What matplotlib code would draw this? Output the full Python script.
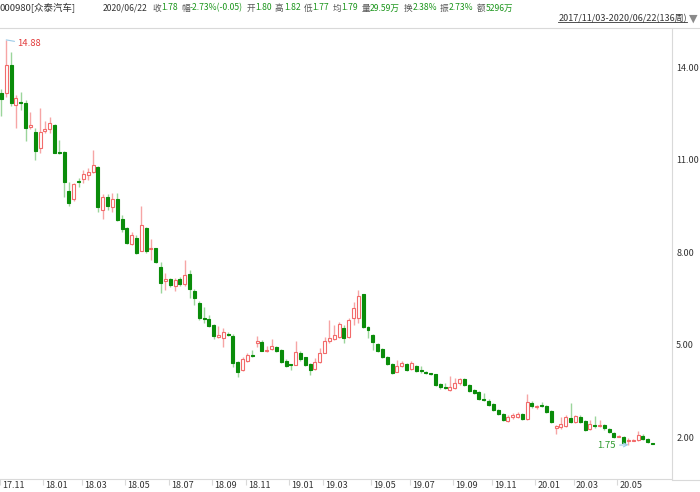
import matplotlib
matplotlib.use("Agg")
import matplotlib.pyplot as plt
import matplotlib.transforms as mtransforms
from matplotlib.lines import Line2D

plt.rcParams['font.family'] = ['Noto Sans CJK SC', 'DejaVu Sans']

# weekly OHLC, 000980 众泰汽车, 2017/11/03 - 2020/06/22 (136 weeks)
opens = [13.17, 13.17, 14.07, 12.77, 12.87, 12.82, 12.06, 11.90, 11.38, 11.93,
         11.98, 12.12, 11.25, 11.25, 9.99, 9.72, 10.30, 10.37, 10.50, 10.61,
         10.77, 9.36, 9.78, 9.47, 9.71, 9.07, 8.77, 8.26, 8.47, 8.04,
         8.77, 8.09, 8.12, 7.52, 7.07, 7.11, 6.90, 7.14, 6.96, 7.28,
         6.74, 6.36, 5.87, 5.82, 5.62, 5.23, 5.20, 5.35, 5.28, 4.43,
         4.17, 4.47, 4.64, 5.04, 5.09, 4.80, 4.86, 4.91, 4.82, 4.47,
         4.35, 4.34, 4.73, 4.58, 4.37, 4.20, 4.43, 4.73, 5.11, 5.19,
         5.25, 5.53, 5.25, 5.85, 5.85, 6.63, 5.56, 5.31, 5.02, 4.86,
         4.59, 4.36, 4.12, 4.31, 4.36, 4.20, 4.31, 4.15, 4.10, 4.05,
         4.03, 3.72, 3.61, 3.52, 3.58, 3.74, 3.87, 3.69, 3.52, 3.45,
         3.23, 3.18, 3.06, 2.88, 2.74, 2.52, 2.64, 2.66, 2.74, 2.59,
         3.09, 2.96, 3.02, 3.01, 2.84, 2.28, 2.31, 2.36, 2.63, 2.50,
         2.66, 2.52, 2.25, 2.37, 2.37, 2.38, 2.27, 2.14, 2.01, 2.01,
         1.86, 1.88, 1.90, 2.04, 1.93, 1.80]
highs = [13.30, 14.88, 14.50, 13.09, 13.20, 12.93, 12.55, 12.01, 12.68, 12.26,
         12.37, 12.15, 11.63, 11.27, 10.28, 10.24, 10.39, 10.66, 10.71, 11.31,
         10.80, 9.88, 9.88, 9.90, 9.92, 9.20, 8.80, 8.66, 8.55, 9.49,
         8.80, 8.41, 8.14, 7.69, 7.33, 7.15, 7.15, 7.18, 7.74, 7.42,
         6.80, 6.40, 6.23, 5.95, 5.65, 5.60, 5.53, 5.42, 5.35, 4.45,
         4.58, 4.71, 4.82, 5.28, 5.15, 4.95, 5.17, 4.95, 4.85, 4.52,
         4.36, 5.12, 4.80, 4.60, 4.40, 4.55, 4.88, 5.25, 5.80, 5.63,
         5.74, 5.63, 5.85, 6.39, 6.77, 6.65, 5.60, 5.35, 5.05, 4.88,
         4.62, 4.40, 4.50, 4.45, 4.41, 4.45, 4.34, 4.30, 4.15, 4.08,
         4.05, 3.75, 3.76, 3.98, 3.90, 3.92, 3.92, 3.72, 3.55, 3.48,
         3.42, 3.22, 3.10, 2.92, 2.77, 2.71, 2.77, 2.80, 2.77, 3.39,
         3.18, 3.05, 3.15, 3.05, 2.88, 2.40, 2.66, 2.71, 3.09, 2.73,
         2.70, 2.56, 2.56, 2.68, 2.56, 2.42, 2.30, 2.17, 2.07, 2.03,
         1.98, 1.95, 2.20, 2.10, 1.97, 1.82]
lows = [12.40, 13.04, 12.75, 12.01, 12.60, 11.60, 12.00, 11.00, 11.22, 11.85,
        11.87, 11.20, 11.18, 9.79, 9.49, 9.66, 10.10, 10.23, 10.34, 10.55,
        9.31, 9.06, 9.36, 9.31, 9.00, 8.66, 8.26, 8.22, 7.95, 8.02,
        7.97, 7.74, 7.63, 6.66, 6.77, 6.85, 6.75, 6.90, 6.90, 6.50,
        6.28, 5.80, 5.69, 5.58, 5.17, 5.20, 4.93, 5.28, 4.26, 3.96,
        4.15, 4.44, 4.60, 4.91, 4.78, 4.75, 4.83, 4.76, 4.41, 4.26,
        4.17, 4.32, 4.47, 4.30, 4.01, 4.17, 4.41, 4.71, 5.06, 5.15,
        5.21, 5.04, 5.21, 5.63, 5.71, 5.55, 5.20, 4.82, 4.75, 4.55,
        4.33, 4.04, 4.10, 4.27, 4.14, 4.17, 4.10, 4.07, 4.04, 4.00,
        3.66, 3.55, 3.55, 3.49, 3.55, 3.70, 3.65, 3.47, 3.40, 3.20,
        3.17, 3.00, 2.85, 2.71, 2.51, 2.48, 2.60, 2.62, 2.55, 2.55,
        2.94, 2.92, 2.96, 2.79, 2.46, 2.09, 2.27, 2.33, 2.46, 2.46,
        2.47, 2.20, 2.22, 2.30, 2.34, 2.24, 2.13, 1.98, 1.99, 1.80,
        1.75, 1.86, 1.86, 1.90, 1.79, 1.77]
closes = [12.95, 14.07, 12.82, 12.99, 12.83, 12.01, 12.12, 11.29, 11.90, 11.98,
          12.19, 11.22, 11.22, 10.26, 9.58, 10.21, 10.27, 10.52, 10.58, 10.82,
          9.45, 9.78, 9.49, 9.71, 9.04, 8.75, 8.28, 8.55, 7.97, 8.88,
          8.04, 8.14, 7.69, 6.98, 7.11, 6.93, 7.09, 6.96, 7.27, 6.79,
          6.50, 5.85, 5.84, 5.60, 5.28, 5.31, 5.42, 5.32, 4.41, 4.12,
          4.52, 4.65, 4.62, 5.12, 4.80, 4.83, 4.95, 4.80, 4.44, 4.30,
          4.33, 4.75, 4.52, 4.34, 4.17, 4.44, 4.71, 5.12, 5.20, 5.30,
          5.67, 5.22, 5.80, 6.17, 6.57, 5.58, 5.47, 5.09, 4.80, 4.59,
          4.36, 4.07, 4.30, 4.41, 4.17, 4.39, 4.15, 4.13, 4.08, 4.03,
          3.69, 3.61, 3.59, 3.61, 3.74, 3.87, 3.68, 3.50, 3.44, 3.22,
          3.21, 3.04, 2.88, 2.75, 2.55, 2.66, 2.70, 2.75, 2.59, 3.15,
          3.01, 2.99, 3.00, 2.82, 2.50, 2.36, 2.41, 2.66, 2.50, 2.68,
          2.50, 2.23, 2.42, 2.35, 2.40, 2.28, 2.16, 2.01, 2.04, 1.82,
          1.89, 1.91, 2.05, 1.94, 1.83, 1.78]

month_labels = ['17.11', '18.01', '18.03', '18.05', '18.07', '18.09', '18.11', '19.01',
                '19.03', '19.05', '19.07', '19.09', '19.11', '20.01', '20.03', '20.05']
month_week = [0, 9, 17, 26, 35, 44, 51, 60, 67, 77, 85, 94, 102, 111, 119, 128]
price_ticks = [2, 5, 8, 11, 14]

header_name = '000980[众泰汽车]'
header_date = '2020/06/22'
header_keys = ['收', '幅', '开', '高', '低', '均', '量', '换', '振', '额']
header_vals = ['1.78', '-2.73%(-0.05)', '1.80', '1.82', '1.77', '1.79',
               '29.59万', '2.38%', '2.73%', '5296万']
range_text = '2017/11/03-2020/06/22(136周)'

RED, RED_W = '#f26b6b', '#f6a5a5'
GRN, GRN_W = '#0a8c0a', '#9bd59b'
GRID = '#d9d9d9'

W, H = 700, 492
fig = plt.figure(figsize=(W / 100, H / 100), dpi=100)
ax = fig.add_axes([0, 1 - 479 / H, 672 / W, (479 - 28) / H])

n = len(closes)
idx = list(range(n))
up = [c >= o for o, c in zip(opens, closes)]

# wicks
ax.vlines(idx, lows, highs, colors=[RED_W if u else GRN_W for u in up],
          linewidth=1.0, zorder=1)
# bodies
bottoms = [min(o, c) for o, c in zip(opens, closes)]
heights = [max(abs(c - o), 0.03) for o, c in zip(opens, closes)]
ax.bar(idx, heights, bottom=bottoms, width=0.62,
       facecolor=['white' if u else GRN for u in up],
       edgecolor=[RED if u else GRN for u in up], linewidth=0.8, zorder=2)

ax.set_xlim(-0.10, 139.03)
ax.set_ylim(0.638, 15.266)

for s in ('top', 'left'):
    ax.spines[s].set_visible(False)
ax.spines['right'].set_color(GRID)
ax.spines['bottom'].set_color(GRID)
ax.spines['right'].set_linewidth(0.8)
ax.spines['bottom'].set_linewidth(0.8)

ax.yaxis.tick_right()
ax.set_yticks(price_ticks)
ax.set_yticklabels([f'{v:.2f}' for v in price_ticks])
ax.tick_params(axis='y', length=0, pad=3, labelsize=6.5, labelcolor='#333333')

ax.set_xticks([m - 0.3 for m in month_week])
ax.set_xticklabels(month_labels)
ax.tick_params(axis='x', length=4, width=0.8, color=GRID, pad=-2.5,
               labelsize=6.5, labelcolor='#333333')
shift = mtransforms.ScaledTranslation(2 / 100, 0, fig.dpi_scale_trans)
for lab in ax.get_xticklabels():
    lab.set_horizontalalignment('left')
    lab.set_transform(lab.get_transform() + shift)

# highest / lowest markers
hi = highs.index(max(highs))
lo = lows.index(min(lows))
ax.annotate(f'{highs[hi]:.2f}', xy=(hi, highs[hi]), xytext=(11, -4),
            textcoords='offset pixels', ha='left', va='center', fontsize=6.8,
            color='#e23b3b',
            arrowprops=dict(arrowstyle='-', color='#9ccbe8', lw=0.8,
                            shrinkA=0, shrinkB=0))
ax.annotate(f'{lows[lo]:.2f}', xy=(lo, lows[lo]), xytext=(-13, -1),
            textcoords='offset pixels', ha='right', va='center', fontsize=6.8,
            color='#2e9a2e',
            arrowprops=dict(arrowstyle='->', color='#9ccbe8', lw=0.8,
                            shrinkA=1, shrinkB=0))

# frame lines across full width
fig.add_artist(Line2D([672 / W, 1], [1 - 479.5 / H] * 2, transform=fig.transFigure,
                      color=GRID, lw=0.8))
fig.add_artist(Line2D([0, 1], [1 - 27.5 / H] * 2, transform=fig.transFigure,
                      color=GRID, lw=0.8))

# header line
renderer = fig.canvas.get_renderer()


def put(x, text, color, gap, size=6.2):
    t = fig.text(x / W, 1 - 8 / H, text, fontsize=size, color=color,
                 ha='left', va='center')
    bb = t.get_window_extent(renderer)
    return bb.x1 + gap


put(0, header_name, '#333333', 0, size=6.8)
x = put(103, header_date, '#333333', 4.5)
for k, v in zip(header_keys, header_vals):
    x = put(x, k, '#555555', 0.3)
    x = put(x, v, '#1c961c', 3.2)

rt = fig.text(687 / W, 1 - 18.5 / H, range_text, fontsize=6.5, color='#333333',
              ha='right', va='center')
bb = rt.get_window_extent(renderer)
fig.add_artist(Line2D([bb.x0 / W, bb.x1 / W], [(bb.y0 + 1) / H] * 2,
                      transform=fig.transFigure, color='#333333', lw=0.6))
fig.text(689 / W, 1 - 18.5 / H, '▼', fontsize=8, color='#8a8a8a',
         ha='left', va='center', family=['DejaVu Sans'])

fig.savefig('out.png', dpi=100)
